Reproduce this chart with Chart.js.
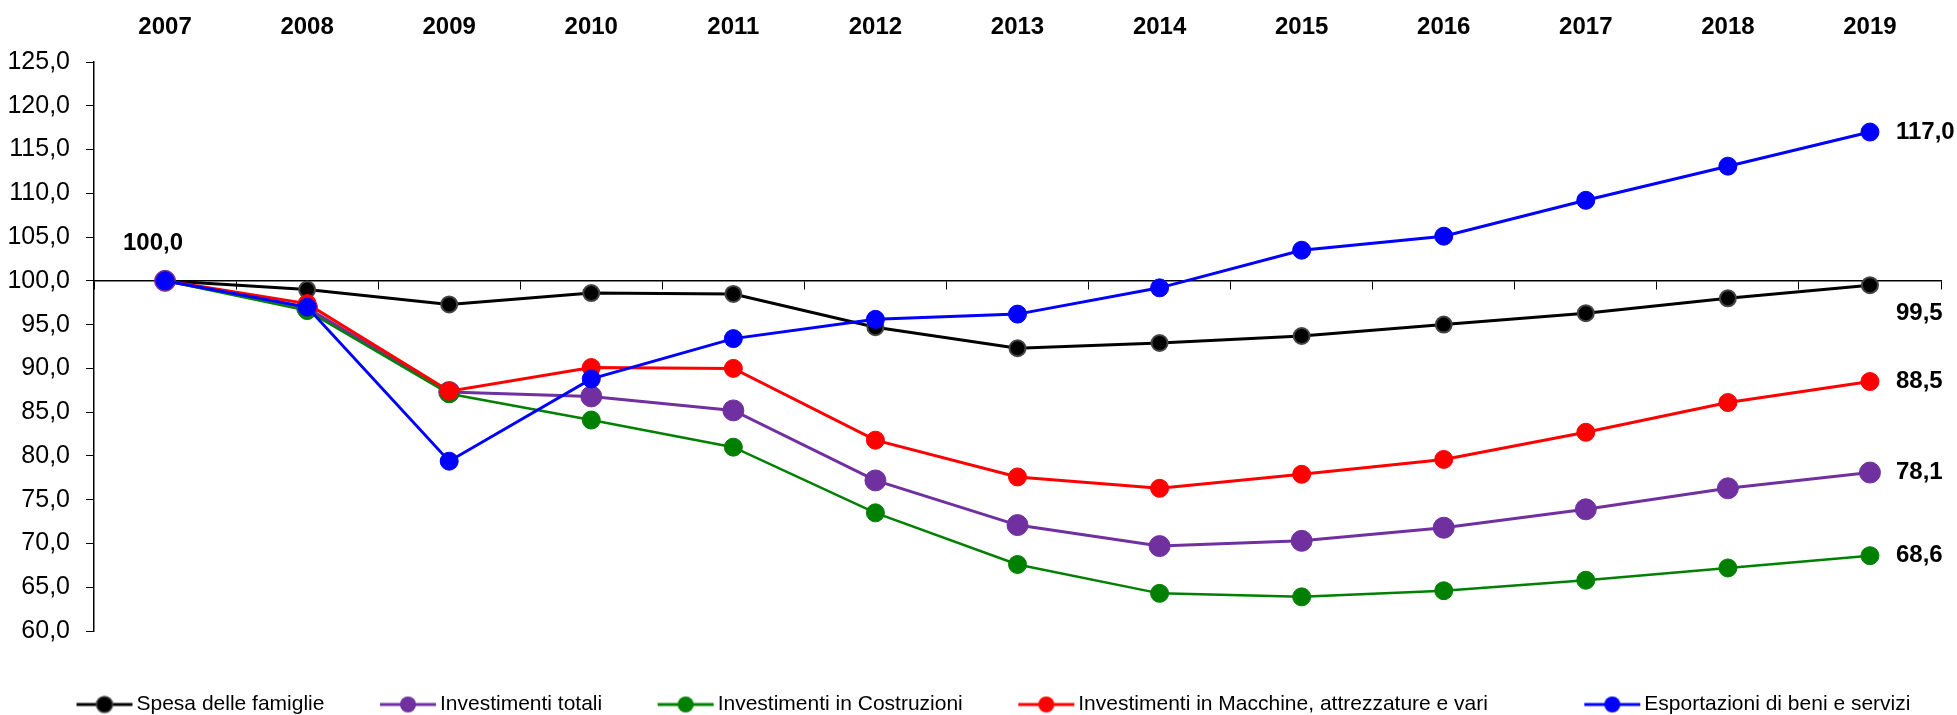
<!DOCTYPE html>
<html>
<head>
<meta charset="utf-8">
<script src="https://cdn.jsdelivr.net/npm/chart.js@4.4.1/dist/chart.umd.min.js"></script>
<style>
  html, body { margin: 0; padding: 0; background: #fff; }
  #wrap { width: 1957px; height: 715px; position: relative; }
</style>
</head>
<body>
<div id="wrap"><canvas id="indexChart"></canvas></div>
<script>
const years = ['2007', '2008', '2009', '2010', '2011', '2012', '2013', '2014', '2015', '2016', '2017', '2018', '2019'];

const spesaFamiglie     = [100.0, 99.0, 97.3, 98.6, 98.5, 94.7, 92.3, 92.9, 93.7, 95.0, 96.3, 98.0, 99.5];
const investTotali      = [100.0, 96.9, 87.3, 86.8, 85.2, 77.2, 72.1, 69.7, 70.3, 71.8, 73.9, 76.3, 78.1];
const investCostruzioni = [100.0, 96.6, 87.1, 84.1, 81.0, 73.5, 67.6, 64.3, 63.9, 64.6, 65.8, 67.2, 68.6];
const investMacchine    = [100.0, 97.4, 87.4, 90.1, 90.0, 81.8, 77.6, 76.3, 77.9, 79.6, 82.7, 86.1, 88.5];
const esportazioni      = [100.0, 97.0, 79.4, 88.8, 93.4, 95.6, 96.2, 99.2, 103.5, 105.1, 109.2, 113.1, 117.0];

const yMin = 60, yMax = 125, yStep = 5;

const FONT = '"Liberation Sans", Arial, sans-serif';
Chart.defaults.font.family = FONT;
Chart.defaults.color = '#000';

const fmt = v => v.toFixed(1).replace('.', ',');

// line + marker icon for the legend (left part of the canvas is empty spacing)
function legendIcon(color, radius, border) {
    const c = document.createElement('canvas');
    c.width = 134;
    c.height = 26;
    const g = c.getContext('2d');
    g.strokeStyle = color;
    g.lineWidth = 3;
    g.beginPath();
    g.moveTo(70, 13);
    g.lineTo(126, 13);
    g.stroke();
    g.beginPath();
    g.arc(98, 13, radius, 0, Math.PI * 2);
    g.fillStyle = color;
    g.fill();
    if (border) {
        g.strokeStyle = border;
        g.lineWidth = 1.5;
        g.stroke();
    }
    return c;
}

function series(label, data, color, opts) {
    return Object.assign({
        label: label,
        data: data,
        borderColor: color,
        backgroundColor: color,
        pointBackgroundColor: color,
        pointBorderColor: color,
        borderWidth: 3,
        pointRadius: 9,
        pointBorderWidth: 1,
        tension: 0,
        legendIcon: legendIcon(color, 8, opts && opts.pointBorderColor)
    }, opts || {});
}

const datasets = [
    series('Spesa delle famiglie', spesaFamiglie, '#000000', {pointRadius: 8, pointBorderColor: '#444444', pointBorderWidth: 2, order: 5, labelShift: 28}),
    series('Investimenti totali', investTotali, '#7030A0', {pointRadius: 10.5, order: 4}),
    series('Investimenti in Costruzioni', investCostruzioni, '#008000', {borderWidth: 2.5, order: 3}),
    series('Investimenti in Macchine, attrezzature e vari', investMacchine, '#FF0000', {order: 2, legendTrail: 7}),
    series('Esportazioni di beni e servizi', esportazioni, '#0000FF', {order: 1})
];

const valueLabels = {
    id: 'valueLabels',
    afterDatasetsDraw(chart) {
        const ctx = chart.ctx;
        ctx.save();
        ctx.font = 'bold 24px ' + FONT;
        ctx.fillStyle = '#000';
        ctx.textBaseline = 'middle';
        const first = chart.getDatasetMeta(0).data[0];
        ctx.textAlign = 'center';
        ctx.fillText(fmt(chart.data.datasets[0].data[0]), first.x - 12, first.y - 37);
        ctx.textAlign = 'left';
        chart.data.datasets.forEach((ds, i) => {
            const meta = chart.getDatasetMeta(i);
            const pt = meta.data[meta.data.length - 1];
            ctx.fillText(fmt(ds.data[ds.data.length - 1]), pt.x + 26, pt.y + (ds.labelShift || 0));
        });
        ctx.restore();
    }
};

// nudge the legend row to the right, as in the original
const legendShift = {
    id: 'legendShift',
    afterLayout(chart) {
        chart.legend.left += 18;
        chart.legend.right += 18;
    }
};

const ctx = document.getElementById('indexChart').getContext('2d');
const indexChart = new Chart(ctx, {
    type: 'line',
    data: {
        labels: years,
        datasets: datasets
    },
    options: {
        responsive: true,
        maintainAspectRatio: false,
        animation: false,
        layout: {
            padding: {left: 3, right: 0, top: 10, bottom: -10}
        },
        scales: {
            x: {
                type: 'category',
                position: 'top',
                offset: true,
                grid: {display: false, drawTicks: false},
                border: {display: false},
                ticks: {
                    font: {size: 24, weight: 'bold'},
                    color: '#000',
                    padding: 20,
                    maxRotation: 0,
                    autoSkip: false
                },
                afterFit(s) { s.height = 52; }
            },
            x2: {
                type: 'category',
                position: {y: 100},
                offset: true,
                grid: {
                    display: true,
                    offset: true,
                    drawOnChartArea: false,
                    drawTicks: true,
                    tickLength: 8,
                    color: '#000',
                    lineWidth: 1
                },
                border: {display: true, color: '#000', width: 1.5},
                ticks: {display: false}
            },
            xb: {
                type: 'category',
                position: 'bottom',
                grid: {display: false, drawTicks: false},
                border: {display: false},
                ticks: {display: false},
                afterFit(s) { s.height = 63; }
            },
            y: {
                type: 'linear',
                position: 'left',
                min: yMin,
                max: yMax,
                grid: {
                    drawOnChartArea: false,
                    drawTicks: true,
                    tickLength: 8,
                    color: '#000'
                },
                border: {display: true, color: '#000', width: 1.5},
                ticks: {
                    stepSize: yStep,
                    font: {size: 25},
                    color: '#000',
                    padding: 16,
                    callback: v => fmt(v)
                },
                afterFit(s) { s.width = 91; }
            },
            yr: {
                type: 'linear',
                position: 'right',
                grid: {display: false, drawTicks: false},
                border: {display: false},
                ticks: {display: false},
                afterFit(s) { s.width = 16; }
            }
        },
        plugins: {
            legend: {
                display: true,
                position: 'bottom',
                align: 'start',
                labels: {
                    usePointStyle: true,
                    pointStyleWidth: 105,
                    padding: 0,
                    font: {size: 21},
                    color: '#000',
                    generateLabels: chart => chart.data.datasets.map((ds, i) => ({
                        text: ds.label + ' '.repeat(ds.legendTrail || 0),
                        pointStyle: ds.legendIcon,
                        fillStyle: ds.borderColor,
                        strokeStyle: ds.borderColor,
                        fontColor: '#000',
                        lineWidth: 0,
                        hidden: false,
                        datasetIndex: i
                    }))
                }
            },
            title: {display: false},
            tooltip: {enabled: false}
        }
    },
    plugins: [valueLabels, legendShift]
});
</script>
</body>
</html>
